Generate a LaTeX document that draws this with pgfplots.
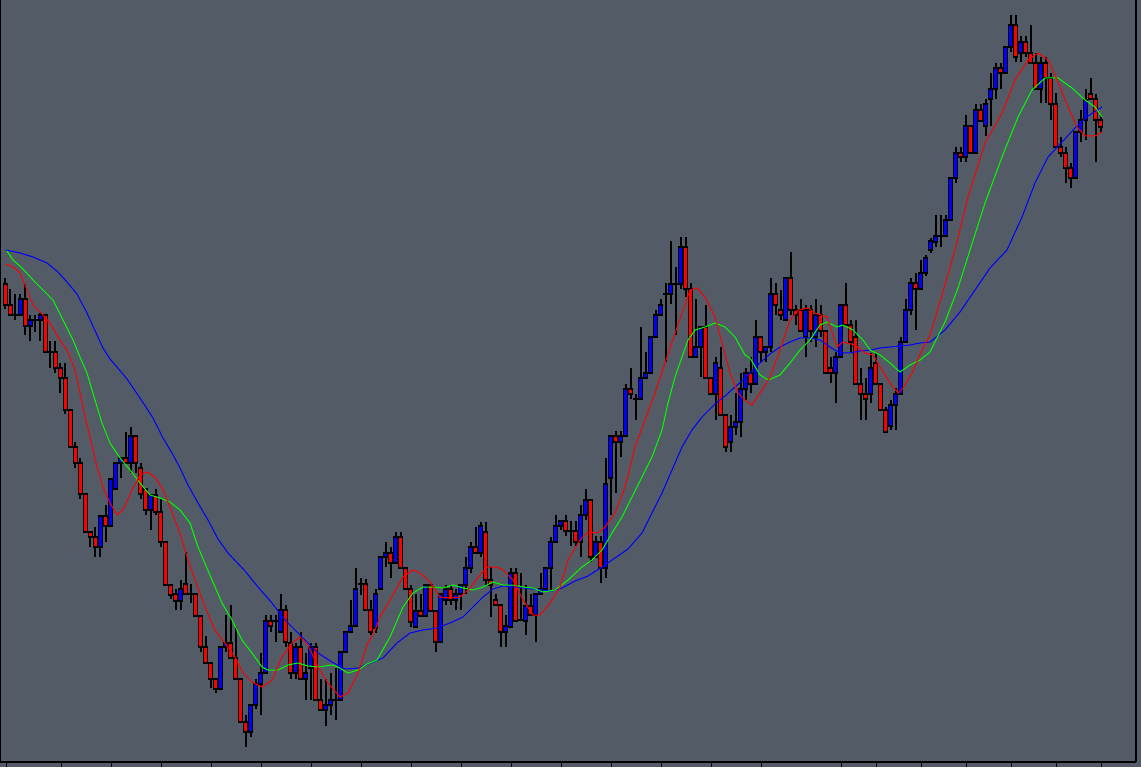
\documentclass[border=0pt]{standalone}
\usepackage{pgfplots}
\usepackage{pgfplotstable}
\pgfplotsset{compat=1.18}
\definecolor{bgc}{RGB}{82,91,102}
\definecolor{cred}{RGB}{255,0,0}
\definecolor{cblue}{RGB}{0,0,255}
\definecolor{cgreen}{RGB}{0,255,0}
% candles: i = bar index, o h l c = open high low close, in screen units (down = larger)
\pgfplotstableread{
i o h l c
0 284 278 309 305
1 305 289 315 315
2 315 294 320 315
3 315 294 315 299
4 299 284 335 326
5 326 315 341 320
6 320 315 332 320
7 320 313 341 315
8 315 315 352 352
9 352 341 368 352
10 352 341 373 368
11 368 363 393 378
12 378 363 414 410
13 410 410 447 447
14 447 442 468 463
15 463 458 499 494
16 494 494 532 532
17 532 532 547 537
18 537 527 557 547
19 547 516 557 516
20 516 505 542 526
21 526 479 526 479
22 489 463 489 463
23 463 458 478 458
24 458 432 463 463
25 463 427 473 436
26 436 436 473 463
27 468 463 499 494
28 489 489 515 510
29 510 495 530 495
30 495 489 515 512
31 512 499 547 542
32 542 542 585 585
33 585 585 599 595
34 594 589 610 601
35 601 580 610 589
36 584 552 594 594
37 594 584 603 594
38 594 594 616 616
39 616 616 652 647
40 647 636 663 663
41 663 663 688 679
42 679 679 693 689
43 689 647 689 647
44 647 615 652 643
45 643 605 658 658
46 658 627 679 679
47 679 679 722 722
48 722 715 747 732
49 732 705 737 705
50 705 679 709 684
51 684 653 715 673
52 673 615 673 621
53 621 615 632 626
54 621 615 642 621
55 632 594 632 610
56 610 605 647 642
57 643 632 679 673
58 673 643 679 647
59 647 632 679 679
60 679 653 700 673
61 668 643 700 647
62 647 643 700 700
63 700 679 710 710
64 710 679 726 705
65 705 673 715 700
66 700 668 720 700
67 700 652 700 652
68 652 632 652 632
69 632 600 632 626
70 626 568 626 589
71 584 578 595 584
72 584 579 610 610
73 610 600 635 632
74 628 589 633 594
75 589 557 589 557
76 557 542 567 553
77 553 547 578 563
78 563 532 563 537
79 537 532 568 568
80 568 568 589 589
81 589 585 627 622
82 627 594 627 611
83 611 594 616 616
84 616 585 616 585
85 585 585 611 611
86 611 611 652 642
87 642 594 642 594
88 600 585 605 589
89 589 585 605 600
90 600 589 610 594
91 594 585 610 585
92 585 557 594 568
93 568 542 573 547
94 547 527 553 553
95 553 522 557 526
96 532 522 585 580
97 580 567 617 585
98 600 594 605 605
99 605 605 647 632
100 632 615 647 626
101 627 568 627 573
102 573 568 621 621
103 620 573 621 620
104 621 585 635 606
105 606 594 615 615
106 615 594 642 594
107 594 573 594 589
108 589 568 589 568
109 568 537 590 542
110 542 515 542 526
111 526 521 530 521
112 521 515 536 531
113 531 521 546 531
114 531 521 546 542
115 542 505 557 515
116 515 489 520 500
117 500 500 562 557
118 557 536 557 542
119 542 536 583 568
120 568 458 578 484
121 478 436 515 436
122 436 431 493 442
123 442 431 457 436
124 436 384 436 389
125 389 368 399 394
126 399 394 420 399
127 399 327 399 378
128 378 352 378 373
129 373 337 373 337
130 337 310 337 315
131 315 299 315 305
132 294 283 362 294
133 294 241 304 284
134 284 267 335 284
135 284 237 289 247
136 247 237 297 289
137 289 283 357 357
138 357 299 357 347
139 347 327 377 327
140 327 305 378 378
141 378 378 394 394
142 394 357 420 363
143 368 347 415 415
144 415 415 452 447
145 442 415 452 427
146 427 393 435 422
147 422 373 437 389
148 389 368 400 373
149 373 357 393 384
150 384 320 384 337
151 337 337 362 352
152 352 347 362 347
153 347 278 352 294
154 294 283 315 305
155 310 290 320 315
156 320 278 320 278
157 278 252 315 310
158 310 305 325 315
159 310 299 331 331
160 337 305 357 310
161 310 305 342 331
162 337 299 347 315
163 315 305 337 331
164 331 331 373 373
165 368 357 383 373
166 373 352 403 357
167 357 305 357 305
168 305 283 325 325
169 325 320 352 342
170 337 320 384 384
171 384 368 420 394
172 394 378 420 399
173 394 353 403 368
174 363 353 384 384
175 384 384 410 410
176 410 407 432 432
177 426 400 430 405
178 405 388 430 394
179 394 337 394 342
180 342 299 342 310
181 310 278 315 283
182 283 273 330 289
183 289 260 289 273
184 273 255 276 258
185 250 238 253 241
186 242 215 247 236
187 236 215 247 236
188 236 215 236 220
189 220 178 220 178
190 178 147 183 153
191 153 147 162 157
192 157 115 162 126
193 126 126 153 153
194 153 104 153 110
195 110 104 121 121
196 126 99 136 104
197 99 73 126 89
198 89 63 99 68
199 68 63 89 73
200 73 47 73 47
201 47 15 52 25
202 25 15 62 57
203 53 36 62 42
204 42 36 57 53
205 53 25 63 63
206 63 53 89 89
207 89 57 103 63
208 63 57 103 78
209 78 73 120 104
210 104 93 147 147
211 147 137 157 153
212 153 147 183 168
213 168 163 188 178
214 178 132 178 132
215 132 110 142 120
216 120 89 140 100
217 94 78 99 99
218 99 94 162 120
219 120 115 132 127
}\ohlc
\pgfplotstableread{
x y
6 264
13 267
20 273
25 285
33 305
43 315
50 323
58 337
67 350
75 370
80 393
85 417
90 437
97 467
103 487
110 503
117 515
123 510
132 490
140 475
147 472
155 477
163 490
170 507
180 533
187 557
195 580
205 607
215 630
225 643
235 657
243 673
252 682
262 687
272 680
282 657
292 643
300 637
308 645
318 667
328 683
340 697
348 693
358 673
367 645
375 630
380 617
390 600
403 577
413 570
420 573
430 582
440 597
450 598
460 597
470 588
480 575
487 567
497 567
503 570
513 580
523 600
533 615
540 615
550 603
560 587
568 560
580 540
588 532
598 533
605 527
615 513
625 487
635 447
645 420
655 393
665 363
672 342
682 313
690 290
697 288
705 297
715 317
722 343
730 373
738 393
745 400
752 405
760 393
770 377
780 350
790 320
798 310
808 308
815 313
827 317
837 347
843 342
855 345
865 353
873 355
882 370
890 383
898 393
903 388
912 373
922 350
930 335
942 295
955 250
968 197
985 143
1002 113
1015 80
1028 60
1038 53
1048 60
1058 82
1068 107
1077 127
1085 136
1095 136
1102 132
}\mared
\pgfplotstableread{
x y
7 251
13 260
22 268
33 280
43 290
53 300
63 320
73 340
80 357
87 373
95 400
102 423
110 443
120 458
130 470
140 483
150 495
160 498
170 502
180 510
190 523
198 547
212 580
222 603
232 620
242 640
252 653
262 667
268 670
278 670
288 665
298 663
308 666
318 667
332 665
338 667
348 673
358 670
367 664
377 660
390 637
403 607
413 593
423 587
433 587
443 588
453 585
463 588
473 590
483 587
493 582
503 585
513 585
523 587
533 588
543 592
555 590
568 580
582 567
592 560
602 550
612 533
622 517
632 497
642 477
652 457
662 430
668 403
675 377
682 357
688 340
695 330
705 327
715 323
725 327
735 337
745 355
750 358
760 375
768 380
780 375
790 363
800 350
810 340
820 325
827 322
837 327
843 325
853 330
863 340
870 350
880 355
890 363
900 372
910 365
920 360
930 352
945 322
958 288
970 250
985 203
1002 157
1018 117
1032 90
1045 78
1058 78
1072 88
1085 100
1095 107
1102 117
}\magreen
\pgfplotstableread{
x y
6 250
20 253
33 257
47 263
58 272
67 282
77 294
87 313
97 335
103 348
110 359
117 367
127 379
140 398
153 418
163 438
172 453
180 468
188 485
198 503
208 520
218 539
228 553
245 571
258 587
272 603
285 620
298 633
308 643
318 653
332 662
345 669
358 668
368 664
383 658
397 643
410 633
423 630
437 628
450 623
463 617
473 607
483 597
493 589
503 586
513 587
523 588
533 589
543 590
552 591
562 588
575 581
588 576
602 567
615 558
628 549
642 533
652 513
662 493
672 470
682 447
692 430
702 417
715 404
725 396
735 387
745 378
750 373
760 363
770 354
780 347
790 342
800 338
810 338
820 340
830 347
840 353
850 353
860 351
870 350
880 348
890 347
900 346
910 345
920 343
930 342
945 330
960 312
975 290
990 268
1007 250
1022 217
1035 183
1048 157
1062 142
1075 128
1088 116
1102 107
}\mablue
\begin{document}
\begin{tikzpicture}
\fill[bgc] (0pt,-3pt) rectangle (684.6pt,457.2pt);
\begin{axis}[
  at={(0pt,0pt)}, anchor=south west,
  width=681.6pt, height=457.2pt, scale only axis,
  xmin=0, xmax=1136, ymin=0, ymax=762, y dir=reverse,
  axis x line*=bottom, axis y line*=box,
  axis line style={black, line width=0.8pt, -},
  xtick={6.7,61.7,111.7,161.7,211.7,261.7,311.7,361.7,411.7,461.7,511.7,561.7,611.7,661.7,711.7,761.7,841.7,876.7,921.7,966.7,1011.7,1056.7,1101.7},
  xticklabels={}, ytick=\empty,
  tick align=outside, major tick length=3pt,
  tick style={black, line width=0.6pt},
]
% wicks
\addplot[draw=none, forget plot,
  error bars/.cd, y dir=both, y explicit, error mark=none,
  error bar style={draw=black, solid, line width=1.2pt}]
  table[x expr=5.5+5*\thisrow{i}, y expr=(\thisrow{h}+\thisrow{l})/2,
        y error expr=(\thisrow{l}-\thisrow{h})/2] {\ohlc};
% body outlines
\addplot[draw=none, forget plot,
  error bars/.cd, y dir=both, y explicit, error mark=none,
  error bar style={draw=black, solid, line width=2.5pt}]
  table[x expr=5.5+5*\thisrow{i}, y expr=(\thisrow{o}+\thisrow{c})/2,
        y error expr=abs(\thisrow{c}-\thisrow{o})/2+0.6] {\ohlc};
% red bodies
\addplot[draw=none, forget plot,
  restrict expr to domain={\thisrow{c}-\thisrow{o}}{0.5:2000},
  error bars/.cd, y dir=both, y explicit, error mark=none,
  error bar style={draw=cred, solid, line width=1.3pt}]
  table[x expr=5.5+5*\thisrow{i}, y expr=(\thisrow{o}+\thisrow{c})/2,
        y error expr={max(abs(\thisrow{c}-\thisrow{o})/2-0.6,0)}] {\ohlc};
% blue bodies
\addplot[draw=none, forget plot,
  restrict expr to domain={\thisrow{c}-\thisrow{o}}{-2000:-0.5},
  error bars/.cd, y dir=both, y explicit, error mark=none,
  error bar style={draw=cblue, solid, line width=1.3pt}]
  table[x expr=5.5+5*\thisrow{i}, y expr=(\thisrow{o}+\thisrow{c})/2,
        y error expr={max(abs(\thisrow{c}-\thisrow{o})/2-0.6,0)}] {\ohlc};
% moving averages
\addplot[cblue, line width=0.6pt] table {\mablue};
\addplot[cgreen, line width=0.6pt] table {\magreen};
\addplot[cred, line width=0.6pt] table {\mared};
\end{axis}
\pgfresetboundingbox
\path[use as bounding box] (0pt,-3pt) rectangle (684.6pt,457.2pt);
\end{tikzpicture}
\end{document}
